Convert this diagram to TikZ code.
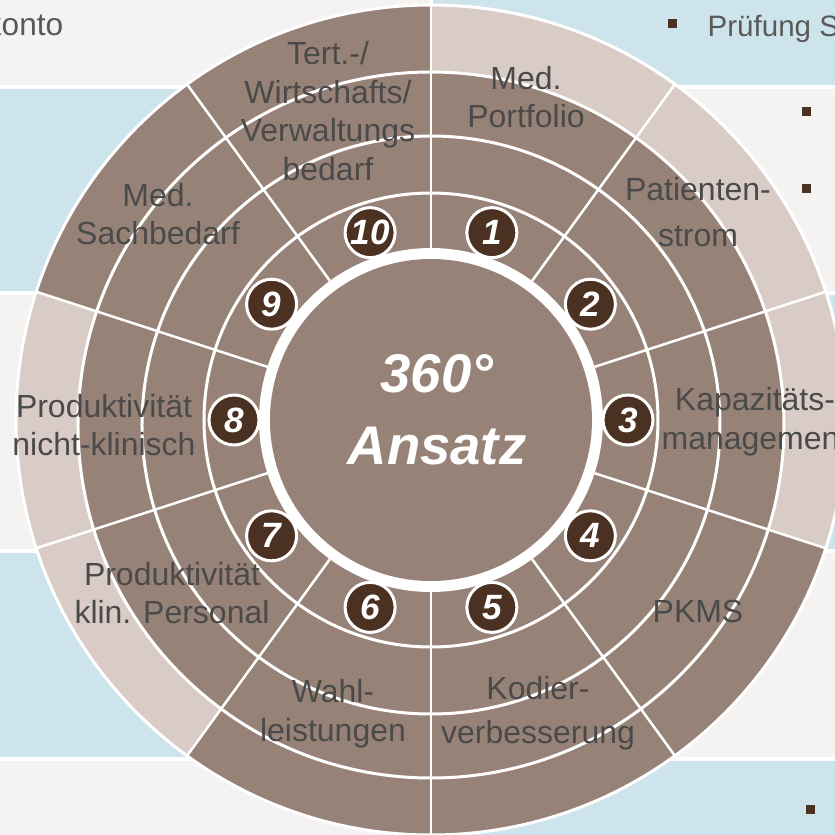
\documentclass[tikz,border=0pt]{standalone}
\usepackage{fontspec}
\setmainfont{Liberation Sans}
\definecolor{rowgrey}{HTML}{F4F3F1}
\definecolor{rowblue}{HTML}{CEE4EC}
\definecolor{taupe}{HTML}{978277}
\definecolor{taupelight}{HTML}{D9CCC7}
\definecolor{darkbrown}{HTML}{4A3121}
\definecolor{labelgrey}{HTML}{4A4A4A}
\definecolor{sheetgrey}{HTML}{595959}

\begin{document}
\begin{tikzpicture}[x=0.1mm,y=0.1mm,
    field/.style={text=labelgrey,align=center,inner sep=0pt,font=\fontsize{9.1}{11}\selectfont},
    badge/.style={circle,fill=darkbrown,draw=white,line width=0.3mm,minimum size=5mm,inner sep=0pt,
        text=white,font=\fontsize{10}{12}\selectfont\bfseries\itshape},
    bullet/.style={fill=darkbrown,minimum size=0.9mm,inner sep=0pt},
    sheet/.style={text=sheetgrey,inner sep=0pt,font=\fontsize{9}{11}\selectfont}]
    \useasboundingbox (-431,-415) rectangle (404,420);
    % table rows behind the wheel
    \foreach \ya/\yb/\cl/\cr in {420/335/rowgrey/rowblue,331/129/rowblue/rowgrey,125/-129/rowgrey/rowblue,
        -133/-337/rowblue/rowgrey,-341/-415/rowgrey/rowblue}{
        \fill[\cl] (-431,\ya) rectangle (-2,\yb);
        \fill[\cr] (2,\ya) rectangle (404,\yb);
    }
    \node[sheet,anchor=base east] (konto) at (-367,385) {konto};
    \node[sheet,anchor=base west,font=\fontsize{8.4}{10}\selectfont] (pruefung) at (276,384) {Prüfung S};
    \node[bullet] (b1) at (242,397) {};
    \node[bullet] (b2) at (376,309) {};
    \node[bullet] (b3) at (376,232) {};
    \node[bullet] (b4) at (380,-389) {};
    % wheel
    \fill[taupe] (0,0) circle (415);
    \begin{scope}
        \clip (0,0) -- (-18:415) arc[start angle=-18,end angle=90,radius=415] -- cycle
              (0,0) -- (162:415) arc[start angle=162,end angle=234,radius=415] -- cycle;
        \fill[taupelight,even odd rule] (0,0) circle (415) (0,-5) circle (353);
    \end{scope}
    \draw[white,line width=0.3mm] (0,0) circle (415) (0,-5) circle (353) (0,-5) circle (289) (0,0) circle (227);
    \foreach \a in {90,54,...,-234} \draw[white,line width=0.25mm] (\a:172) -- (\a:415);
    \fill[white] (0,0) circle (172);
    \fill[taupe] (0,0) circle (161);
    \foreach \i in {1,...,10} \node[badge] (n\i) at ({108-36*\i}:197) {\i};
    \node[text=white,align=center,inner sep=0pt,font=\fontsize{15.5}{20.5}\selectfont\bfseries\itshape] (hub) at (6,10) {360°\\Ansatz};
    % fields
    \node[field] (portfolio) at (95,323) {Med.\\Portfolio};
    \node[field] (patient) at (267,208) {Patienten-\\[0.7mm]strom};
    \node[field] (kapazitaet) at (324,-2) {Kapazitäts-\\management};
    \node[field] (pkms) at (267,-191) {PKMS};
    \node[field] (kodier) at (107,-293) {Kodier-\\[0.5mm]verbesserung};
    \node[field] (wahl) at (-98,-294) {Wahl-\\leistungen};
    \node[field] (prodklin) at (-259,-173) {Produktivität\\klin. Personal};
    \node[field] (prodnk) at (-327,-5) {Produktivität\\nicht-klinisch};
    \node[field] (sachbedarf) at (-273,206) {Med.\\Sachbedarf};
    \node[field] (tert) at (-103,309) {Tert.-/\\Wirtschafts/\\Verwaltungs\\bedarf};
\end{tikzpicture}
\end{document}
